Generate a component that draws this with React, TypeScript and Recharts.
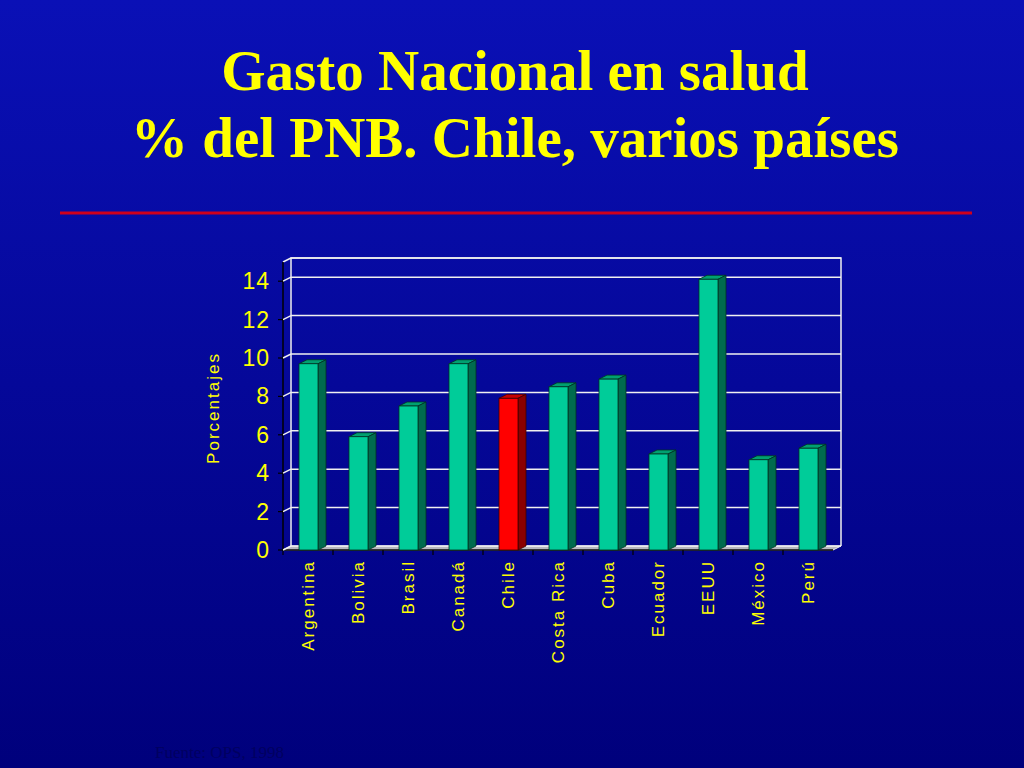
import React from "react";
import { BarChart, Bar, XAxis, YAxis, CartesianGrid, Cell } from "recharts";

const countries = ["Argentina", "Bolivia", "Brasil", "Canadá", "Chile", "Costa Rica", "Cuba", "Ecuador", "EEUU", "México", "Perú"];
const gasto = [9.7, 5.9, 7.5, 9.7, 7.9, 8.5, 8.9, 5.0, 14.1, 4.7, 5.3];
const yTicks = [0, 2, 4, 6, 8, 10, 12, 14];

const data = countries.map((c, i) => ({ country: c, value: gasto[i] }));

// back wall of the 3D plot
const L = 291;
const R = 841;
const T = 258;
const B = 546;
const DX = 8;
const DY = 4;
const BAND = (R - L) / countries.length;

const YELLOW = "#ffff00";
const GREEN = "#00cc99";
const RED = "#ff0000";
const SANS = "'Liberation Sans', Arial, sans-serif";
const SERIF = "'Liberation Serif', 'Times New Roman', serif";

function Bar3D(props: any) {
    const { x, y, width, height, fill } = props;
    if (height <= 0) return null;
    const isRed = fill === RED;
    const top = isRed ? "#c80000" : "#00a070";
    const side = isRed ? "#8a0000" : "#006b4e";
    const line = isRed ? "#400000" : "#003322";
    const fx = x - DX;
    const fy = y + DY;
    return (
        <g stroke={line} strokeWidth={0.8}>
            <polygon points={`${fx},${fy} ${x},${y} ${x + width},${y} ${fx + width},${fy}`} fill={top} />
            <polygon points={`${fx + width},${fy} ${x + width},${y} ${x + width},${y + height} ${fx + width},${fy + height}`} fill={side} />
            <rect x={fx} y={fy} width={width} height={height} fill={fill} />
        </g>
    );
}

function YTick(props: any) {
    const { y, payload } = props;
    return (
        <g>
            <line x1={L - DX} y1={y + DY} x2={L} y2={y} stroke="#f0f0f0" strokeWidth={1.5} />
            <line x1={L - DX - 5} y1={y + DY} x2={L - DX} y2={y + DY} stroke="#000" strokeWidth={1.2} />
            <text x={L - DX - 13} y={y + DY} textAnchor="end" dominantBaseline="central" fill={YELLOW} fontSize={23} fontFamily={SANS} letterSpacing={1}>
                {payload.value}
            </text>
        </g>
    );
}

function XTick(props: any) {
    const { x, payload } = props;
    const cx = x - DX;
    const ty = B + DY + 10;
    return (
        <g>
            <line x1={x - BAND / 2 - DX} y1={B + DY} x2={x - BAND / 2 - DX} y2={B + DY + 5} stroke="#000" strokeWidth={1.2} />
            <text x={cx} y={ty} transform={`rotate(-90 ${cx} ${ty})`} textAnchor="end" dominantBaseline="central" fill={YELLOW} fontSize={17} fontFamily={SANS} letterSpacing={2}>
                {payload.value}
            </text>
        </g>
    );
}

export default function App() {
    return (
        <div style={{ position: "absolute", left: 0, top: 0, width: 1024, height: 768, overflow: "hidden", background: "linear-gradient(to bottom, #0a10b6, #00007c)" }}>
            <svg width={1024} height={768} style={{ position: "absolute", left: 0, top: 0 }}>
                <text x={515} y={90} textAnchor="middle" fill={YELLOW} fontFamily={SERIF} fontWeight="bold" fontSize={57}>
                    Gasto Nacional en salud
                </text>
                <text x={515} y={157} textAnchor="middle" fill={YELLOW} fontFamily={SERIF} fontWeight="bold" fontSize={57}>
                    % del PNB. Chile, varios países
                </text>
                <rect x={60} y={211.5} width={912} height={3} fill="#d0001c" />

                {/* floor */}
                <polygon points={`${L - DX},${B + DY} ${R - DX},${B + DY} ${R},${B} ${L},${B}`} fill="#b8b8c0" stroke="#f0f0f0" strokeWidth={1} />
                {/* wall edges */}
                <polyline points={`${L},${B} ${L},${T} ${R},${T} ${R},${B}`} fill="none" stroke="#f0f0f0" strokeWidth={1.5} />
                <line x1={L - DX} y1={T + DY} x2={L} y2={T} stroke="#f0f0f0" strokeWidth={1.5} />
                {/* front axes */}
                <line x1={L - DX} y1={T + DY} x2={L - DX} y2={B + DY} stroke="#000" strokeWidth={1.5} />
                <line x1={L - DX} y1={B + DY} x2={R - DX} y2={B + DY} stroke="#000" strokeWidth={1.5} />

                <text x={213} y={408} transform="rotate(-90 213 408)" textAnchor="middle" dominantBaseline="central" fill={YELLOW} fontSize={17} fontFamily={SANS} letterSpacing={2}>
                    Porcentajes
                </text>

                <text x={155} y={758} fill="#000060" fontFamily={SERIF} fontSize={17}>
                    Fuente: OPS, 1998
                </text>
            </svg>

            <div style={{ position: "absolute", left: 0, top: 0 }}>
                <BarChart width={1024} height={768} data={data} margin={{ top: T, right: 1024 - R, bottom: 768 - B - 130, left: L - 60 }} barCategoryGap={0}>
                    <CartesianGrid horizontal vertical={false} stroke="#f0f0f0" strokeWidth={1.5} strokeOpacity={1} />
                    <XAxis dataKey="country" interval={0} height={130} axisLine={false} tickLine={false} tick={<XTick />} />
                    <YAxis width={60} domain={[0, 15]} ticks={yTicks} axisLine={false} tickLine={false} tick={<YTick />} />
                    <Bar dataKey="value" barSize={19} isAnimationActive={false} shape={<Bar3D />}>
                        {data.map((d) => (
                            <Cell key={d.country} fill={d.country === "Chile" ? RED : GREEN} />
                        ))}
                    </Bar>
                </BarChart>
            </div>
        </div>
    );
}
